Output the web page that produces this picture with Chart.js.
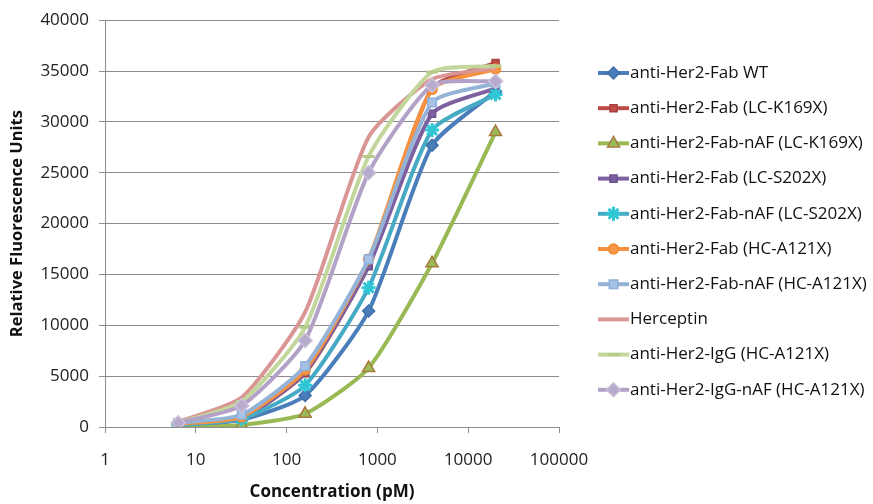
<!DOCTYPE html>
<html>
<head>
<meta charset="utf-8">
<script src="https://cdn.jsdelivr.net/npm/chart.js@4.4.1/dist/chart.umd.min.js"></script>
<style>
  html, body { margin: 0; padding: 0; background: #fff; }
  #wrap { width: 873px; height: 504px; }
</style>
</head>
<body>
<div id="wrap"><canvas id="chart" width="873" height="504"></canvas></div>
<script>
// concentrations in pM (5-fold dilution series)
const concentrations = [6.4, 32, 160, 800, 4000, 20000]
const xTickValues = [1, 10, 100, 1000, 10000, 100000]

const seriesNames = [
  "anti-Her2-Fab WT",
  "anti-Her2-Fab (LC-K169X)",
  "anti-Her2-Fab-nAF (LC-K169X)",
  "anti-Her2-Fab (LC-S202X)",
  "anti-Her2-Fab-nAF (LC-S202X)",
  "anti-Her2-Fab (HC-A121X)",
  "anti-Her2-Fab-nAF (HC-A121X)",
  "Herceptin",
  "anti-Her2-IgG (HC-A121X)",
  "anti-Her2-IgG-nAF (HC-A121X)"
]

const fabWT        = [200, 700, 3100, 11400, 27700, 33000]
const fabLCK169    = [300, 900, 5300, 16000, 33300, 35800]
const fabNafLCK169 = [100, 200, 1300, 5800, 16100, 29000]
const fabLCS202    = [250, 800, 5400, 15800, 30800, 33300]
const fabNafLCS202 = [200, 800, 4100, 13700, 29200, 32700]
const fabHCA121    = [300, 1000, 5600, 16500, 33200, 35200]
const fabNafHCA121 = [400, 1200, 6000, 16500, 31900, 33800]
const herceptin    = [500, 2900, 11300, 28500, 34200, 35300]
const iggHCA121    = [400, 2500, 9800, 26600, 34900, 35500]
const iggNafHCA121 = [400, 2100, 8500, 25000, 33600, 34000]

const seriesValues = [fabWT, fabLCK169, fabNafLCK169, fabLCS202, fabNafLCS202,
  fabHCA121, fabNafHCA121, herceptin, iggHCA121, iggNafHCA121]

// line colour, marker fill, marker border, marker style, marker radius
const styles = [
  { line: "#4a7ebb", fill: "#4a7ebb", border: "#3f6fa8", point: "rectRot", r: 6 },
  { line: "#be4b48", fill: "#be4b48", border: "#a8403d", point: "rect", r: 5 },
  { line: "#98b954", fill: "#9bbb59", border: "#a87a3e", point: "triangle", r: 7 },
  { line: "#7d60a0", fill: "#7d60a0", border: "#6c518e", point: "rect", r: 5 },
  { line: "#46aac5", fill: "#46aac5", border: "#2fc6d6", point: "star", r: 7 },
  { line: "#f69240", fill: "#f79646", border: "#f08a30", point: "circle", r: 5 },
  { line: "#95b3d7", fill: "#a6c3e6", border: "#8fb0da", point: "rect", r: 6 },
  { line: "#d99694", fill: "#d99694", border: "#d99694", point: "line", r: 0 },
  { line: "#c3d69b", fill: "#c3d69b", border: "#b5cc88", point: "line", r: 6 },
  { line: "#b3a2c7", fill: "#b8aacc", border: "#c9c1d8", point: "rectRot", r: 7 }
]

const FONT = "'Open Sans', 'DejaVu Sans', sans-serif"

const datasets = seriesNames.map((name, i) => ({
  label: name,
  data: concentrations.map((c, j) => ({ x: c, y: seriesValues[i][j] })),
  borderColor: styles[i].line,
  borderWidth: 4,
  tension: 0.2,
  pointStyle: styles[i].point,
  pointRadius: styles[i].r,
  pointBackgroundColor: styles[i].fill,
  pointBorderColor: styles[i].border,
  pointBorderWidth: styles[i].point === "star" || styles[i].point === "line" ? 3 : 1.5,
  order: -i
}))

// Excel-style legend: short line with the marker on it
const legendPlugin = {
  id: "sideLegend",
  afterDraw(chart) {
    const ctx = chart.ctx
    const x0 = 598, x1 = 629, top = 73, step = 35.2
    ctx.save()
    chart.data.datasets.forEach((ds, i) => {
      const y = top + i * step
      const st = styles[i]
      ctx.strokeStyle = st.line
      ctx.lineWidth = 4
      ctx.beginPath()
      ctx.moveTo(x0, y)
      ctx.lineTo(x1, y)
      ctx.stroke()
      if (st.r > 0) {
        ctx.fillStyle = st.fill
        ctx.strokeStyle = st.border
        ctx.lineWidth = ds.pointBorderWidth
        Chart.helpers.drawPoint(ctx, { pointStyle: st.point, radius: st.r, rotation: 0, borderWidth: ds.pointBorderWidth }, (x0 + x1) / 2, y)
      }
      ctx.fillStyle = "#111"
      ctx.font = "17px " + FONT
      ctx.textBaseline = "middle"
      ctx.textAlign = "left"
      ctx.fillText(ds.label, x1 + 1, y)
    })
    ctx.restore()
  }
}

new Chart(document.getElementById("chart").getContext("2d"), {
  type: "line",
  data: { datasets: datasets },
  plugins: [legendPlugin],
  options: {
    responsive: false,
    devicePixelRatio: 1,
    animation: false,
    layout: { padding: { left: 0, top: 17, right: 314, bottom: 0 } },
    plugins: {
      legend: { display: false },
      tooltip: { enabled: false }
    },
    scales: {
      x: {
        type: "logarithmic",
        min: 1,
        max: 100000,
        afterBuildTicks: (scale) => { scale.ticks = xTickValues.map(v => ({ value: v })) },
        afterFit: (scale) => { scale.height = 77 },
        ticks: {
          callback: (v) => String(v),
          autoSkip: false,
          maxRotation: 0,
          padding: 17,
          color: "#222",
          font: { family: FONT, size: 17 }
        },
        grid: { drawOnChartArea: false, drawTicks: true, tickLength: 6, color: "#8c8c8c" },
        border: { color: "#8c8c8c", width: 1 },
        title: {
          display: true,
          text: "Concentration (pM)",
          color: "#111",
          font: { family: FONT, size: 17, weight: "bold" },
          padding: { top: 4, bottom: 2 }
        }
      },
      y: {
        min: 0,
        max: 40000,
        afterFit: (scale) => { scale.width = 105 },
        ticks: {
          stepSize: 5000,
          callback: (v) => String(v),
          padding: 10,
          color: "#222",
          font: { family: FONT, size: 17 }
        },
        grid: { color: "#8c8c8c", lineWidth: 1, tickLength: 6 },
        border: { color: "#8c8c8c", width: 1 },
        title: {
          display: true,
          text: "Relative Fluorescence Units",
          color: "#111",
          font: { family: FONT, size: 16.5, weight: "bold" },
          padding: { top: 7, bottom: 0 }
        }
      }
    }
  }
})
</script>
</body>
</html>
